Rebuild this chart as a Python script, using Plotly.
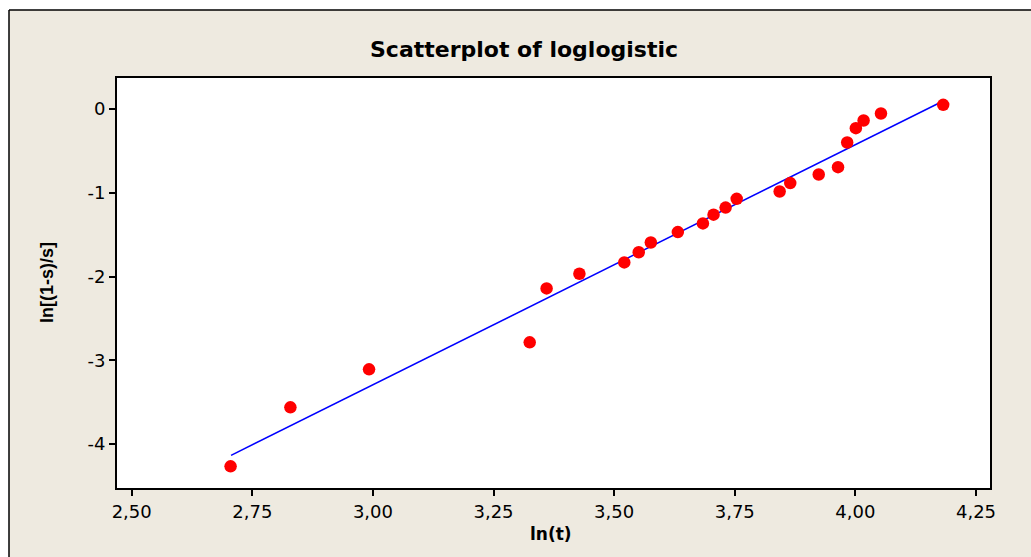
import plotly.graph_objects as go

# Data
ln_t = [2.705, 2.829, 2.992, 3.325, 3.360, 3.428, 3.521, 3.551, 3.576, 3.632,
        3.684, 3.706, 3.731, 3.754, 3.843, 3.865, 3.924, 3.964, 3.983, 4.001,
        4.017, 4.053, 4.182]
ln_odds = [-4.266, -3.562, -3.108, -2.786, -2.142, -1.967, -1.832, -1.710, -1.594, -1.470,
           -1.366, -1.262, -1.177, -1.073, -0.985, -0.885, -0.782, -0.695, -0.400, -0.229,
           -0.137, -0.054, 0.050]
fit_x = [2.706, 4.182]
fit_y = [-4.135, 0.095]

x_tickvals = [2.50, 2.75, 3.00, 3.25, 3.50, 3.75, 4.00, 4.25]
x_ticktext = ["2,50", "2,75", "3,00", "3,25", "3,50", "3,75", "4,00", "4,25"]
y_tickvals = [0, -1, -2, -3, -4]
y_ticktext = ["0", "-1", "-2", "-3", "-4"]

W, H = 1031, 557
L, R, T, B = 117, 990, 78, 488
pw, ph = R - L, B - T

def px(x):
    return (x - L) / pw

def py(y):
    return (B - y) / ph

fig = go.Figure()
fig.add_trace(go.Scatter(x=fit_x, y=fit_y, mode="lines",
                         line=dict(color="#0000FF", width=1.5), hoverinfo="skip"))
fig.add_trace(go.Scatter(x=ln_t, y=ln_odds, mode="markers",
                         marker=dict(color="#FF0000", size=12.5, line=dict(width=0))))

wide = "DejaVu Sans, Verdana, sans-serif"
narrow = "Liberation Sans, Arial, sans-serif"
fig.update_layout(
    width=W, height=H,
    margin=dict(l=L, r=W - R, t=T, b=H - B),
    paper_bgcolor="#EEEAE0",
    plot_bgcolor="#FFFFFF",
    showlegend=False,
    font=dict(family=wide, size=19, color="black"),
)
fig.update_xaxes(range=[2.4696, 4.279], tickvals=x_tickvals, ticktext=x_ticktext,
                 showgrid=False, zeroline=False, showline=True, linecolor="black",
                 linewidth=2, mirror=True, ticks="outside", ticklen=6, tickwidth=2,
                 tickcolor="black", tickfont=dict(size=18, family=wide))
fig.update_yaxes(range=[-4.525, 0.37], tickvals=y_tickvals, ticktext=y_ticktext,
                 showgrid=False, zeroline=False, showline=True, linecolor="black",
                 linewidth=2, mirror=True, ticks="outside", ticklen=6, tickwidth=2,
                 tickcolor="black", tickfont=dict(size=18, family=wide))

# Outer frame: white strips at top/left and black frame lines
fig.add_shape(type="rect", xref="paper", yref="paper", x0=px(-5), x1=px(W + 5),
              y0=py(10), y1=py(-5), fillcolor="white", line=dict(width=0), layer="below")
fig.add_shape(type="rect", xref="paper", yref="paper", x0=px(-5), x1=px(9),
              y0=py(H + 5), y1=py(-5), fillcolor="white", line=dict(width=0), layer="below")
fig.add_shape(type="line", xref="paper", yref="paper", x0=px(9), x1=px(W + 5),
              y0=py(10), y1=py(10), line=dict(color="black", width=1.5))
fig.add_shape(type="line", xref="paper", yref="paper", x0=px(9), x1=px(9),
              y0=py(10), y1=py(H + 5), line=dict(color="black", width=1.5))

fig.add_annotation(text="<b>Scatterplot of loglogistic</b>", xref="paper", yref="paper",
                   x=px(524), y=py(50), showarrow=False, xanchor="center", yanchor="middle",
                   font=dict(size=22, family=wide))
fig.add_annotation(text="<b>ln(t)</b>", xref="paper", yref="paper",
                   x=px(551), y=py(534), showarrow=False, xanchor="center", yanchor="middle",
                   font=dict(size=17, family=wide))
fig.add_annotation(text="<b>ln[(1-s)/s]</b>", xref="paper", yref="paper",
                   x=px(47), y=py(283), showarrow=False, xanchor="center", yanchor="middle",
                   textangle=-90, font=dict(size=18, family=narrow))

fig.write_html("out.html")
